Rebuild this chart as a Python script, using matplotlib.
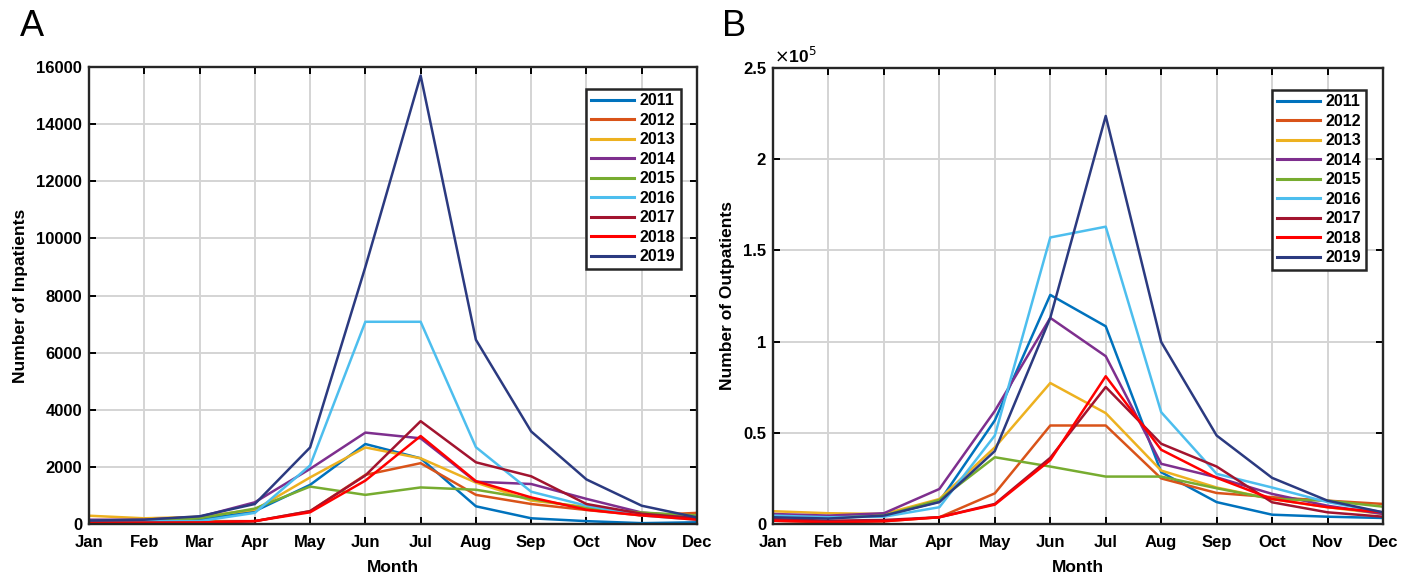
import matplotlib

matplotlib.use("Agg")
import matplotlib.pyplot as plt
from matplotlib.ticker import FuncFormatter

plt.rcParams["font.family"] = ["Liberation Sans", "DejaVu Sans"]

months = ["Jan", "Feb", "Mar", "Apr", "May", "Jun",
          "Jul", "Aug", "Sep", "Oct", "Nov", "Dec"]
years = ["2011", "2012", "2013", "2014", "2015", "2016", "2017", "2018", "2019"]
colors = ["#0072BD", "#D95319", "#EDB120", "#7E2F8E", "#77AC30",
          "#4DBEEE", "#A2142F", "#FF0000", "#2B3A80"]

# Panel A: inpatients per month
inpatients = {
    "2011": [100, 100, 150, 450, 1370, 2800, 2300, 620, 200, 100, 30, 60],
    "2012": [100, 100, 100, 100, 450, 1720, 2130, 1020, 700, 490, 300, 390],
    "2013": [290, 200, 250, 500, 1630, 2680, 2300, 1450, 820, 600, 300, 250],
    "2014": [150, 150, 250, 760, 1930, 3200, 3000, 1480, 1400, 880, 400, 250],
    "2015": [100, 100, 200, 540, 1310, 1020, 1280, 1200, 880, 550, 400, 300],
    "2016": [100, 100, 100, 390, 2050, 7080, 7080, 2690, 1130, 640, 300, 150],
    "2017": [50, 50, 50, 100, 450, 1700, 3600, 2160, 1670, 700, 360, 200],
    "2018": [40, 40, 50, 100, 410, 1520, 3080, 1500, 930, 500, 300, 150],
    "2019": [120, 150, 270, 700, 2680, 9000, 15700, 6450, 3240, 1560, 640, 230],
}

# Panel B: outpatients per month
outpatients = {
    "2011": [4600, 3700, 4600, 12300, 56800, 125600, 108400, 28400, 12000, 5100, 4000, 3300],
    "2012": [1800, 1000, 1500, 3700, 16800, 54000, 54000, 25000, 17000, 14700, 12800, 11000],
    "2013": [7000, 5900, 5500, 13700, 42000, 77300, 60800, 29300, 20000, 13700, 9200, 5500],
    "2014": [5500, 4600, 5900, 19200, 62000, 113000, 92000, 33000, 25600, 16500, 10000, 5500],
    "2015": [4000, 3300, 4600, 13200, 36600, 31500, 26000, 26000, 19600, 13700, 12800, 9500],
    "2016": [4600, 3700, 4000, 9200, 48500, 157100, 163000, 61300, 27500, 20000, 12000, 6400],
    "2017": [2700, 1800, 2200, 3700, 11000, 36300, 75100, 44000, 31500, 11900, 6400, 4000],
    "2018": [1800, 1000, 1500, 3700, 10600, 35000, 81000, 40700, 25300, 13700, 9200, 6400],
    "2019": [3700, 3000, 4600, 12000, 40000, 113000, 223700, 99800, 48500, 25300, 12800, 6400],
}


def style_axes(ax, ymax, yticks):
    ax.set_xlim(0, len(months) - 1)
    ax.set_ylim(0, ymax)
    ax.set_xticks(range(len(months)))
    ax.set_xticklabels(months)
    ax.set_yticks(yticks)
    ax.grid(True, color="#d4d4d4", linewidth=1.4)
    ax.set_axisbelow(True)
    ax.tick_params(direction="in", length=5, width=1.4, top=True, right=True,
                   labelsize=12)
    ax.tick_params(axis="x", pad=8)
    ax.tick_params(axis="y", pad=5)
    for sp in ax.spines.values():
        sp.set_linewidth(1.7)
        sp.set_color("#262626")
    ax.set_xlabel("Month", fontsize=12.5, fontweight="bold", labelpad=7)
    leg = ax.legend(loc="upper right", fancybox=False, framealpha=1,
                    edgecolor="#262626", prop={"weight": "bold", "size": 11.5},
                    handlelength=2.7, handletextpad=0.35, labelspacing=0.28,
                    borderpad=0.3, bbox_to_anchor=(0.986, 0.97))
    leg.get_frame().set_linewidth(1.8)
    for line in leg.get_lines():
        line.set_linewidth(2.2)


fig = plt.figure(figsize=(14.12, 5.78), dpi=100)
ax1 = fig.add_axes([89 / 1412, 1 - 524 / 578, 608 / 1412, 457 / 578])
ax2 = fig.add_axes([773 / 1412, 1 - 524 / 578, 610 / 1412, 456 / 578])

x = range(len(months))
for yr, c in zip(years, colors):
    ax1.plot(x, inpatients[yr], color=c, linewidth=1.8, label=yr)
    ax2.plot(x, outpatients[yr], color=c, linewidth=1.8, label=yr)

style_axes(ax1, 16000, range(0, 16001, 2000))
ax1.set_ylabel("Number of Inpatients", fontsize=12.5, fontweight="bold", labelpad=6)

style_axes(ax2, 250000, [0, 50000, 100000, 150000, 200000, 250000])
ax2.yaxis.set_major_formatter(FuncFormatter(lambda v, p: f"{v / 1e5:g}"))
ax2.set_ylabel("Number of Outpatients", fontsize=12.5, fontweight="bold", labelpad=6)
ax2.text(0.002, 1.005, r"$\times$10$^{5}$", transform=ax2.transAxes,
         fontsize=12.5, fontweight="bold", ha="left", va="bottom")

for ax in (ax1, ax2):
    for lab in ax.get_xticklabels() + ax.get_yticklabels():
        lab.set_fontweight("bold")

fig.text(20 / 1412, 1 - 26 / 578, "A", fontsize=26, va="center", ha="left")
fig.text(722 / 1412, 1 - 26 / 578, "B", fontsize=26, va="center", ha="left")

fig.savefig("out.png", dpi=100)
